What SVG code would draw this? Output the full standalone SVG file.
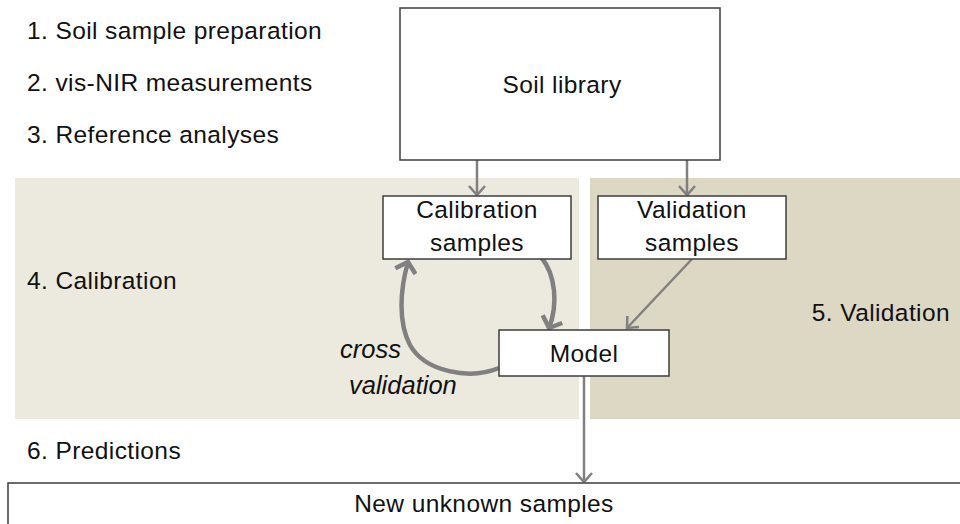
<svg xmlns="http://www.w3.org/2000/svg" width="960" height="524" viewBox="0 0 960 524">
<style>
text{font-family:"Liberation Sans",Arial,sans-serif;font-size:24.5px;letter-spacing:0.4px;fill:#111}
.c{text-anchor:middle}
.e{text-anchor:end}
.i{font-style:italic;font-size:25.5px;letter-spacing:0}
.box{fill:#fff;stroke:#3c3c3c;stroke-width:1.5}
.a{fill:none;stroke:#808080;stroke-width:2.5}
.t{fill:none;stroke:#808080;stroke-width:4.5}
</style>
<defs>
<marker id="ah" markerUnits="userSpaceOnUse" viewBox="0 0 12 18" refX="10" refY="9" markerWidth="12" markerHeight="18" orient="auto">
<path d="M1,1 L10,9 L1,17" fill="none" stroke="#808080" stroke-width="2.5"/>
</marker>
<marker id="ahb" markerUnits="userSpaceOnUse" viewBox="0 0 14 24" refX="11" refY="12" markerWidth="14" markerHeight="24" orient="auto">
<path d="M1.5,1.5 L11,12 L1.5,22.5" fill="none" stroke="#808080" stroke-width="4.5"/>
</marker>
</defs>
<g id="panels">
<rect x="15" y="178" width="564" height="241" fill="#ECE9DF"/>
<rect x="590" y="178" width="370" height="241" fill="#DDD8C4"/>
</g>
<g id="steps">
<text x="27" y="39">1. Soil sample preparation</text>
<text x="27" y="91">2. vis-NIR measurements</text>
<text x="27" y="143">3. Reference analyses</text>
<text x="27" y="289">4. Calibration</text>
<text class="e" x="950" y="321">5. Validation</text>
<text x="27" y="459">6. Predictions</text>
</g>
<g id="connectors">
<line class="a" x1="477" y1="160" x2="477" y2="195" marker-end="url(#ah)"/>
<line class="a" x1="687" y1="160" x2="687" y2="195" marker-end="url(#ah)"/>
<line class="a" x1="692" y1="259" x2="627" y2="328" marker-end="url(#ah)"/>
<line class="a" x1="584" y1="376" x2="584" y2="482" marker-end="url(#ah)"/>
<path class="t" d="M541,257 C556,275 558,305 549,328" marker-end="url(#ahb)"/>
<path class="t" d="M499,368 C470,380 425,372 410,345 C398,322 400,290 408,262" marker-end="url(#ahb)"/>
<text class="i" x="340" y="358">cross</text>
<text class="i" x="349" y="394">validation</text>
</g>
<g id="soil-library">
<rect class="box" x="400" y="8" width="320" height="152"/>
<text class="c" x="562" y="93">Soil library</text>
</g>
<g id="calibration-samples">
<rect class="box" x="383" y="196" width="188" height="63"/>
<text class="c" x="477" y="218">Calibration</text>
<text class="c" x="477" y="251">samples</text>
</g>
<g id="validation-samples">
<rect class="box" x="598" y="196" width="188" height="63"/>
<text class="c" x="692" y="218">Validation</text>
<text class="c" x="692" y="251">samples</text>
</g>
<g id="model">
<rect class="box" x="499" y="330" width="170" height="46"/>
<text class="c" x="584" y="362">Model</text>
</g>
<g id="new-unknown-samples">
<rect class="box" x="8" y="483" width="960" height="50"/>
<text class="c" x="484" y="512">New unknown samples</text>
</g>
</svg>
